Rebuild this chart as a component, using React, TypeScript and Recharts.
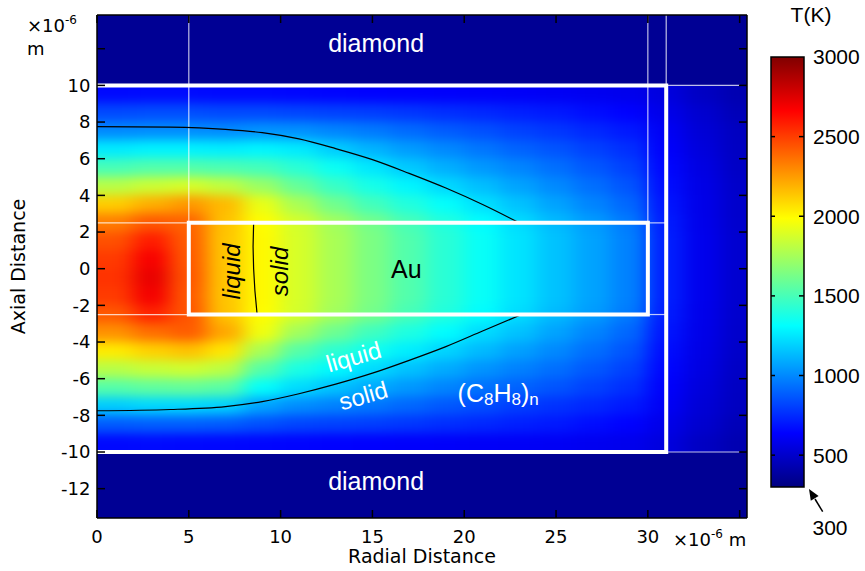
import React from 'react';
import { ComposedChart, XAxis, YAxis, Line, ReferenceArea, ReferenceLine, ReferenceDot } from 'recharts';

// radial cell centres (µm) and axial cell centres (µm) of the temperature read-out
const radialCenters = [1, 3, 5, 7, 9, 11, 13, 15, 17, 19, 21, 23, 25, 27, 29, 31, 33, 35];
const axialCenters = [9.5, 8.5, 7.5, 6.5, 5.5, 4.5, 3.5, 2.5, 1.5, 0.5, -0.5, -1.5, -2.5, -3.5, -4.5, -5.5, -6.5, -7.5, -8.5, -9.5];

// temperature (K), one row per axial centre
const temperatureRows = [
  [660, 665, 665, 660, 655, 650, 645, 640, 635, 630, 625, 620, 610, 600, 590, 550, 480, 430],
  [830, 840, 840, 830, 830, 820, 810, 800, 780, 760, 740, 720, 700, 670, 640, 580, 510, 450],
  [1000, 1010, 1010, 1005, 1030, 1020, 990, 960, 920, 880, 850, 810, 780, 740, 700, 610, 530, 470],
  [1260, 1280, 1280, 1270, 1290, 1260, 1180, 1110, 1050, 1000, 950, 900, 860, 810, 760, 630, 545, 475],
  [1500, 1530, 1530, 1510, 1490, 1420, 1340, 1250, 1170, 1100, 1040, 990, 930, 870, 810, 650, 560, 485],
  [1800, 1850, 1880, 1820, 1720, 1580, 1460, 1370, 1290, 1210, 1140, 1070, 1000, 930, 860, 670, 570, 495],
  [2120, 2200, 2260, 2170, 1930, 1760, 1610, 1490, 1400, 1320, 1230, 1150, 1070, 990, 910, 690, 580, 500],
  [2330, 2430, 2400, 2150, 1990, 1870, 1740, 1620, 1500, 1400, 1310, 1220, 1130, 1050, 960, 710, 585, 505],
  [2450, 2590, 2420, 2140, 2000, 1880, 1760, 1640, 1530, 1420, 1330, 1240, 1150, 1070, 980, 720, 590, 510],
  [2510, 2680, 2430, 2140, 2000, 1880, 1760, 1640, 1530, 1420, 1330, 1240, 1150, 1070, 980, 720, 590, 510],
  [2530, 2720, 2440, 2140, 2000, 1880, 1760, 1640, 1530, 1420, 1330, 1240, 1150, 1070, 980, 720, 590, 510],
  [2510, 2690, 2430, 2140, 2000, 1880, 1760, 1640, 1530, 1420, 1330, 1240, 1150, 1070, 980, 720, 590, 510],
  [2430, 2570, 2440, 2150, 1990, 1870, 1740, 1620, 1500, 1400, 1310, 1220, 1130, 1050, 960, 710, 585, 505],
  [2280, 2370, 2420, 2220, 1950, 1740, 1600, 1480, 1390, 1310, 1220, 1150, 1070, 990, 910, 690, 580, 500],
  [2040, 2110, 2150, 2050, 1760, 1540, 1430, 1350, 1270, 1200, 1130, 1060, 1000, 930, 860, 670, 570, 495],
  [1800, 1840, 1860, 1810, 1540, 1380, 1300, 1220, 1150, 1090, 1030, 980, 930, 870, 810, 650, 560, 485],
  [1540, 1570, 1580, 1550, 1320, 1220, 1150, 1090, 1040, 990, 940, 900, 860, 810, 760, 630, 545, 475],
  [1180, 1210, 1210, 1190, 1070, 1010, 980, 950, 910, 870, 840, 800, 770, 740, 700, 610, 530, 470],
  [880, 890, 890, 880, 850, 820, 810, 800, 780, 760, 740, 720, 700, 670, 640, 580, 510, 450],
  [660, 665, 660, 655, 650, 645, 640, 635, 630, 625, 620, 615, 610, 600, 590, 550, 480, 430],
];
const diamondTemp = 355;

const xDomain = [0, 35.4];
const yDomain = [-13.6, 13.84];
const xTicks = [0, 5, 10, 15, 20, 25, 30, 35];
const yTicks = [-12, -10, -8, -6, -4, -2, 0, 2, 4, 6, 8, 10, 12];
const barDomain = [300, 3000];
const barTicks = [500, 1000, 1500, 2000, 2500, 3000];

// geometry (µm)
const sampleOutline = [{ x: 0, y: 10 }, { x: 31, y: 10 }, { x: 31, y: -10 }, { x: 0, y: -10 }];
const goldOutline = [{ x: 5, y: 2.5 }, { x: 30, y: 2.5 }, { x: 30, y: -2.5 }, { x: 5, y: -2.5 }, { x: 5, y: 2.5 }];
const meshLines = [
  [{ x: 5, y: 13.84 }, { x: 5, y: 2.5 }],
  [{ x: 30, y: 13.84 }, { x: 30, y: 2.5 }],
  [{ x: 31, y: 13.84 }, { x: 31, y: 10 }],
  [{ x: 0, y: 2.5 }, { x: 5, y: 2.5 }],
  [{ x: 0, y: -2.5 }, { x: 5, y: -2.5 }],
  [{ x: 30, y: 2.5 }, { x: 31, y: 2.5 }],
  [{ x: 30, y: -2.5 }, { x: 31, y: -2.5 }],
  [{ x: 31, y: 10 }, { x: 35, y: 10 }],
  [{ x: 31, y: -10 }, { x: 35, y: -10 }],
];

// liquid / solid boundaries
const upperMeltLine = [
  { x: 0, y: 7.75 }, { x: 4, y: 7.72 }, { x: 7, y: 7.6 }, { x: 9, y: 7.42 }, { x: 11, y: 7.08 },
  { x: 13, y: 6.55 }, { x: 15, y: 5.95 }, { x: 17, y: 5.2 }, { x: 19, y: 4.4 }, { x: 21, y: 3.5 }, { x: 23, y: 2.5 },
];
const lowerMeltLine = [
  { x: 0, y: -7.75 }, { x: 4, y: -7.68 }, { x: 7, y: -7.52 }, { x: 9, y: -7.25 }, { x: 11, y: -6.82 },
  { x: 13, y: -6.3 }, { x: 15, y: -5.7 }, { x: 17, y: -5.0 }, { x: 19, y: -4.25 }, { x: 21, y: -3.4 }, { x: 23, y: -2.55 },
];
const goldMeltLine = [
  { x: 8.53, y: 2.5 }, { x: 8.5, y: 1.2 }, { x: 8.53, y: 0 }, { x: 8.6, y: -1.2 }, { x: 8.72, y: -2.5 },
];

// jet colour map break points, hottest first (top of the colour bar)
const jetKnots = [1, 0.875, 0.625, 0.375, 0.125, 0];

const AXIS_FONT = 'DejaVu Sans, sans-serif';
const LABEL_FONT = 'Liberation Sans, Arial, sans-serif';

const clamp01 = (v: number) => Math.max(0, Math.min(1, v));
function jetFrac(t: number) {
  const r = clamp01(Math.min(4 * t - 1.5, -4 * t + 4.5));
  const g = clamp01(Math.min(4 * t - 0.5, -4 * t + 3.5));
  const b = clamp01(Math.min(4 * t + 0.5, -4 * t + 2.5));
  return `rgb(${Math.round(r * 255)},${Math.round(g * 255)},${Math.round(b * 255)})`;
}
const jet = (temp: number) => jetFrac(clamp01((temp - barDomain[0]) / (barDomain[1] - barDomain[0])));

// cells for the heat layer; the outer ring is stretched so the blur has no empty edge
const stepX = radialCenters[1] - radialCenters[0];
const stepY = axialCenters[0] - axialCenters[1];
const cells: { x1: number; x2: number; y1: number; y2: number; fill: string }[] = [];
axialCenters.forEach((yc, r) => {
  radialCenters.forEach((xc, c) => {
    cells.push({
      x1: c === 0 ? xc - stepX * 1.5 : xc - stepX / 2,
      x2: c === radialCenters.length - 1 ? xc + stepX * 1.5 : xc + stepX / 2,
      y1: r === axialCenters.length - 1 ? yc - stepY * 2 : yc - stepY / 2,
      y2: r === 0 ? yc + stepY * 2 : yc + stepY / 2,
      fill: jet(temperatureRows[r][c]),
    });
  });
});

const textShape =
  (content: React.ReactNode, opts: { rotate?: number; color?: string; size?: number; italic?: boolean } = {}) =>
  (p: any) => {
    const { rotate = 0, color = '#fff', size = 25, italic = false } = opts;
    return (
      <text
        x={p.cx}
        y={p.cy}
        fill={color}
        fontSize={size}
        fontFamily={LABEL_FONT}
        fontStyle={italic ? 'italic' : 'normal'}
        textAnchor="middle"
        dominantBaseline="central"
        transform={rotate ? `rotate(${rotate} ${p.cx} ${p.cy})` : undefined}
      >
        {content}
      </text>
    );
  };

const W = 865;
const H = 571;
const plot = { left: 97, top: 15, right: 747, bottom: 518 };
const bar = { left: 771, top: 57, right: 804, bottom: 487 };

const axisStroke = { stroke: '#000', strokeWidth: 1.5 };
const tickFont = { fontFamily: AXIS_FONT, fontSize: 18, fill: '#000' };
const layer: React.CSSProperties = { position: 'absolute', left: 0, top: 0 };

const mainMargin = { top: plot.top - 1, right: W - plot.right - 1, bottom: 8, left: 5 };
const barMargin = { top: bar.top, right: W - bar.right - 1, bottom: H - bar.bottom, left: bar.left - 1 };

// inward tick length, expressed in axis units
const TICK_PX = 8;
const tickX = (TICK_PX * (xDomain[1] - xDomain[0])) / (plot.right - plot.left);
const tickY = (TICK_PX * (yDomain[1] - yDomain[0])) / (plot.bottom - plot.top);
const barTickL = 4 / (bar.right - bar.left);
const barTickR = 5 / (bar.right - bar.left);

const axialTitle = (p: any) => {
  const vb = p.viewBox;
  const cx = vb.x + 13;
  const cy = vb.y + vb.height / 2;
  return (
    <text
      x={cx}
      y={cy}
      transform={`rotate(-90 ${cx} ${cy})`}
      textAnchor="middle"
      dominantBaseline="central"
      fontFamily={AXIS_FONT}
      fontSize={19}
      fill="#000"
    >
      Axial Distance
    </text>
  );
};

// the frame axes; drawn silent under the marks and again visible on top
function frameAxes(show: boolean) {
  const line = show ? axisStroke : false;
  return [
    <XAxis
      key="xb"
      type="number"
      dataKey="x"
      domain={xDomain}
      allowDataOverflow
      ticks={xTicks}
      interval={0}
      height={45}
      tickSize={0}
      tickMargin={12}
      tickFormatter={(v) => (v === 35 ? '' : String(v))}
      tick={show ? tickFont : false}
      axisLine={line}
      tickLine={false}
      label={show ? { value: 'Radial Distance', position: 'insideBottom', offset: 0, fontFamily: AXIS_FONT, fontSize: 19, fill: '#000' } : undefined}
    />,
    <XAxis
      key="xt"
      xAxisId="top"
      orientation="top"
      type="number"
      domain={xDomain}
      allowDataOverflow
      ticks={xTicks}
      height={1}
      tick={false}
      axisLine={line}
      tickLine={false}
    />,
    <YAxis
      key="yl"
      type="number"
      domain={yDomain}
      allowDataOverflow
      ticks={yTicks}
      interval={0}
      width={92}
      tickSize={0}
      tickMargin={6.5}
      tickFormatter={(v) => (v === 12 ? '' : String(v))}
      tick={show ? tickFont : false}
      axisLine={line}
      tickLine={false}
      label={show ? { content: axialTitle } : undefined}
    />,
    <YAxis
      key="yr"
      yAxisId="right"
      orientation="right"
      type="number"
      domain={yDomain}
      allowDataOverflow
      ticks={yTicks}
      width={1}
      tick={false}
      axisLine={line}
      tickLine={false}
    />,
  ];
}

function barAxes(show: boolean) {
  return [
    <XAxis key="bx" type="number" dataKey="x" domain={[0, 1]} allowDataOverflow hide height={0} />,
    <YAxis
      key="bl"
      orientation="left"
      type="number"
      domain={barDomain}
      allowDataOverflow
      ticks={barTicks}
      width={1}
      tick={false}
      axisLine={false}
      tickLine={false}
    />,
    <YAxis
      key="br"
      yAxisId="barRight"
      orientation="right"
      type="number"
      domain={barDomain}
      allowDataOverflow
      ticks={barTicks}
      interval={0}
      width={1}
      tickSize={0}
      tickMargin={9}
      tick={show ? { fontFamily: LABEL_FONT, fontSize: 21, fill: '#000' } : false}
      axisLine={false}
      tickLine={false}
    />,
  ];
}

const tickSeg = (a: { x: number; y: number }, b: { x: number; y: number }, key: string) => (
  <ReferenceLine key={key} segment={[a, b]} stroke="#000" strokeWidth={1.5} ifOverflow="visible" />
);

export default function App() {
  return (
    <div style={{ position: 'absolute', left: 0, top: 0, width: W, height: H, background: '#fff', overflow: 'hidden' }}>
      <svg width={0} height={0} style={{ position: 'absolute' }}>
        <defs>
          <filter id="heatBlur" x="-5%" y="-5%" width="110%" height="110%" colorInterpolationFilters="sRGB">
            <feGaussianBlur stdDeviation="10 5.5" />
          </filter>
          <linearGradient id="jetBar" x1="0" y1="0" x2="0" y2="1">
            {jetKnots.map((t) => (
              <stop key={t} offset={1 - t} stopColor={jetFrac(t)} />
            ))}
          </linearGradient>
        </defs>
      </svg>

      {/* temperature field, blurred and clipped to the plot area */}
      <div
        style={{
          position: 'absolute',
          left: plot.left,
          top: plot.top,
          width: plot.right - plot.left,
          height: plot.bottom - plot.top,
          overflow: 'hidden',
        }}
      >
        <div style={{ position: 'absolute', left: -plot.left, top: -plot.top, filter: 'url(#heatBlur)' }}>
          <ComposedChart
            width={W}
            height={H}
            margin={{ top: plot.top, right: W - plot.right, bottom: H - plot.bottom, left: plot.left }}
          >
            <XAxis type="number" dataKey="x" domain={xDomain} allowDataOverflow hide height={0} />
            <YAxis type="number" domain={yDomain} allowDataOverflow hide width={0} />
            {cells.map((c, i) => (
              <ReferenceArea
                key={i}
                x1={c.x1}
                x2={c.x2}
                y1={c.y1}
                y2={c.y2}
                fill={c.fill}
                fillOpacity={1}
                stroke={c.fill}
                strokeWidth={1}
                ifOverflow="visible"
              />
            ))}
          </ComposedChart>
        </div>
      </div>

      {/* structure and annotations */}
      <div style={layer}>
        <ComposedChart width={W} height={H} margin={mainMargin}>
          {frameAxes(false)}

          <ReferenceArea x1={xDomain[0]} x2={xDomain[1]} y1={10} y2={yDomain[1]} fill={jet(diamondTemp)} fillOpacity={1} />
          <ReferenceArea x1={xDomain[0]} x2={xDomain[1]} y1={yDomain[0]} y2={-10} fill={jet(diamondTemp)} fillOpacity={1} />

          {meshLines.map((seg, i) => (
            <ReferenceLine
              key={i}
              segment={seg}
              stroke="#fff"
              strokeOpacity={0.75}
              strokeWidth={1.2}
              ifOverflow="visible"
            />
          ))}

          <Line data={upperMeltLine} dataKey="y" type="monotone" stroke="#000" strokeWidth={1.2} dot={false} activeDot={false} isAnimationActive={false} />
          <Line data={lowerMeltLine} dataKey="y" type="monotone" stroke="#000" strokeWidth={1.2} dot={false} activeDot={false} isAnimationActive={false} />
          <Line data={goldMeltLine} dataKey="y" type="linear" stroke="#000" strokeWidth={1.2} dot={false} activeDot={false} isAnimationActive={false} />
          <Line data={sampleOutline} dataKey="y" type="linear" stroke="#fff" strokeWidth={4} strokeLinejoin="miter" dot={false} activeDot={false} isAnimationActive={false} />
          <Line data={goldOutline} dataKey="y" type="linear" stroke="#fff" strokeWidth={4} strokeLinejoin="miter" strokeLinecap="square" dot={false} activeDot={false} isAnimationActive={false} />

          <ReferenceDot x={15.2} y={12.3} r={0} shape={textShape('diamond')} />
          <ReferenceDot x={15.2} y={-11.6} r={0} shape={textShape('diamond')} />
          <ReferenceDot x={16.85} y={0} r={0} shape={textShape('Au', { color: '#000' })} />
          <ReferenceDot x={7.33} y={-0.15} r={0} shape={textShape('liquid', { color: '#000', rotate: -90, italic: true, size: 24 })} />
          <ReferenceDot x={9.94} y={-0.15} r={0} shape={textShape('solid', { color: '#000', rotate: -90, italic: true, size: 24 })} />
          <ReferenceDot x={13.97} y={-4.8} r={0} shape={textShape('liquid', { rotate: -16, size: 24 })} />
          <ReferenceDot x={14.5} y={-6.92} r={0} shape={textShape('solid', { rotate: -16, size: 24 })} />
          <ReferenceDot
            x={21.85}
            y={-6.8}
            r={0}
            shape={textShape(
              <>
                (C<tspan dy={6} fontSize={17}>8</tspan>
                <tspan dy={-6}>H</tspan>
                <tspan dy={6} fontSize={17}>8</tspan>
                <tspan dy={-6}>)</tspan>
                <tspan dy={6} fontSize={17}>n</tspan>
              </>
            )}
          />
        </ComposedChart>
      </div>

      {/* frame, inward ticks and axis titles on top */}
      <div style={layer}>
        <ComposedChart width={W} height={H} margin={mainMargin}>
          {frameAxes(true)}
          {xTicks.map((t) => tickSeg({ x: t, y: yDomain[0] }, { x: t, y: yDomain[0] + tickY }, `b${t}`))}
          {xTicks.map((t) => tickSeg({ x: t, y: yDomain[1] }, { x: t, y: yDomain[1] - tickY }, `t${t}`))}
          {yTicks.map((t) => tickSeg({ x: xDomain[0], y: t }, { x: xDomain[0] + tickX, y: t }, `l${t}`))}
          {yTicks.map((t) => tickSeg({ x: xDomain[1], y: t }, { x: xDomain[1] - tickX, y: t }, `r${t}`))}
        </ComposedChart>
      </div>

      {/* colour bar */}
      <div style={layer}>
        <ComposedChart width={W} height={H} margin={barMargin}>
          {barAxes(false)}
          <ReferenceArea x1={0} x2={1} y1={barDomain[0]} y2={barDomain[1]} fill="url(#jetBar)" fillOpacity={1} />
        </ComposedChart>
      </div>
      <div style={layer}>
        <ComposedChart width={W} height={H} margin={barMargin}>
          {barAxes(true)}
          {barTicks
            .filter((t) => t < barDomain[1])
            .map((t) => tickSeg({ x: 0, y: t }, { x: barTickL, y: t }, `cl${t}`))}
          {barTicks
            .filter((t) => t < barDomain[1])
            .map((t) => tickSeg({ x: 1, y: t }, { x: 1 - barTickR, y: t }, `cr${t}`))}
          <ReferenceArea x1={0} x2={1} y1={barDomain[0]} y2={barDomain[1]} fill="none" stroke="#000" strokeWidth={1.5} />
        </ComposedChart>
      </div>

      {/* unit notes, colour bar title and the minimum marker */}
      <svg width={W} height={H} style={{ position: 'absolute', left: 0, top: 0, pointerEvents: 'none' }}>
        <text x={27} y={32} fontFamily={AXIS_FONT} fontSize={18} fill="#000">
          ×10<tspan dy={-8} fontSize={12}>-6</tspan>
        </text>
        <text x={27} y={55} fontFamily={AXIS_FONT} fontSize={18} fill="#000">m</text>
        <text x={673} y={546} fontFamily={AXIS_FONT} fontSize={18} fill="#000">
          ×10<tspan dy={-8} fontSize={12}>-6</tspan>
          <tspan dy={8}> m</tspan>
        </text>
        <text x={811} y={22} textAnchor="middle" fontFamily={LABEL_FONT} fontSize={21} fill="#000">T(K)</text>
        <text x={830} y={535} textAnchor="middle" fontFamily={LABEL_FONT} fontSize={21} fill="#000">300</text>
        <line x1={822.7} y1={511.7} x2={815} y2={499} stroke="#000" strokeWidth={1.5} />
        <polygon points="809,489 818.6,496.1 810.8,500.7" fill="#000" />
      </svg>
    </div>
  );
}
